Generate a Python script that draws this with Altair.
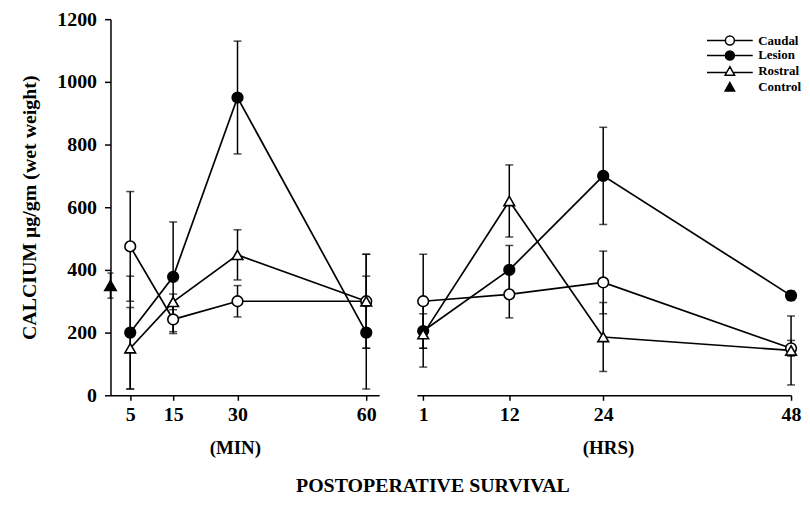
import altair as alt
import pandas as pd

# ---------------- data ----------------
series_names = ["Caudal", "Lesion", "Rostral"]
minutes = [5, 15, 30, 60]
hours = [1, 12, 24, 48]

caudal_min = [475, 242, 300, 300]
caudal_min_err = [175, 45, 50, 150]
lesion_min = [200, 378, 950, 200]
lesion_min_err = [180, 175, 180, 180]
rostral_min = [150, 298, 448, 300]
rostral_min_err = [130, 25, 80, 150]

caudal_hr = [300, 322, 360, 150]
caudal_hr_err = [150, 75, 100, 25]
lesion_hr = [205, 400, 700, 318]
lesion_hr_err = [55, 78, 155, 15]
rostral_hr = [195, 620, 186, 143]
rostral_hr_err = [105, 115, 110, 110]

control_time = [0.4]
control_value = [350]
control_err = [40]

y_ticks = [0, 200, 400, 600, 800, 1000, 1200]
legend_labels = ["Caudal", "Lesion", "Rostral", "Control"]

FONT = "Liberation Serif"


def long_df(times, vals_errs):
    rows = []
    for name, (vals, errs) in vals_errs.items():
        for t, v, e in zip(times, vals, errs):
            rows.append({"t": t, "value": v, "lo": v - e, "hi": v + e, "series": name})
    return pd.DataFrame(rows)


df_min = long_df(minutes, {
    "Caudal": (caudal_min, caudal_min_err),
    "Lesion": (lesion_min, lesion_min_err),
    "Rostral": (rostral_min, rostral_min_err),
})
df_hr = long_df(hours, {
    "Caudal": (caudal_hr, caudal_hr_err),
    "Lesion": (lesion_hr, lesion_hr_err),
    "Rostral": (rostral_hr, rostral_hr_err),
})
df_ctrl = pd.DataFrame({
    "t": control_time,
    "value": control_value,
    "lo": [v - e for v, e in zip(control_value, control_err)],
    "hi": [v + e for v, e in zip(control_value, control_err)],
})
df_leg = pd.DataFrame({"series": legend_labels})

point_style = {
    "Caudal": ("circle", "white"),
    "Lesion": ("circle", "black"),
    "Rostral": ("triangle-up", "white"),
}

legend_paths = [
    "M-4.6,0H-0.9M0.9,0H4.6M0.9,0A0.9,0.9,0,1,1,-0.9,0A0.9,0.9,0,1,1,0.9,0Z",
    "M-4.6,0H4.6M0.9,0A0.9,0.9,0,1,1,-0.9,0A0.9,0.9,0,1,1,0.9,0Z",
    "M-4.6,0.2H-0.7M0.7,0.2H4.6M0,-0.95L0.95,0.75L-0.95,0.75Z",
    "M0,-0.95L0.95,0.75L-0.95,0.75Z",
]
legend_fills = ["white", "black", "white", "black"]
legend_strokes = ["black", "black", "black", "black"]

Y_SCALE = alt.Scale(domain=[0, 1200], nice=False, zero=True)

left_y_axis = alt.Axis(
    values=y_ticks, format="d", title="CALCIUM \u03bcg/gm (wet weight)", grid=False,
    labelFontSize=20, titleFontSize=20, tickSize=6, labelPadding=8, titlePadding=17,
)


def panel(df, domain, xvals, xtitle, title_x, width, yaxis, extra=None):
    xaxis = alt.Axis(values=xvals, format="d", title=xtitle, grid=False, labelFontSize=20,
                     tickSize=5, labelPadding=4, titleX=title_x, titleY=44,
                     titleFontSize=19, labelFlush=False)
    X = alt.X("t:Q", scale=alt.Scale(domain=domain, nice=False, zero=False), axis=xaxis)

    def Y(field):
        return alt.Y(f"{field}:Q", scale=Y_SCALE, axis=yaxis)

    base = alt.Chart(df)
    layers = [
        base.mark_line(color="black", strokeWidth=1.7).encode(
            x=X, y=Y("value"), detail="series:N", order="t:Q"),
        base.mark_rule(color="black", strokeWidth=1.5).encode(x=X, y=Y("lo"), y2="hi:Q"),
        base.mark_tick(orient="horizontal", size=8, thickness=1.5, color="black").encode(x=X, y=Y("lo")),
        base.mark_tick(orient="horizontal", size=8, thickness=1.5, color="black").encode(x=X, y=Y("hi")),
    ]
    for s in series_names:
        shape, fill = point_style[s]
        layers.append(
            base.transform_filter(alt.datum.series == s).mark_point(
                shape=shape, filled=True, fill=fill, stroke="black", strokeWidth=1.6,
                size=115, opacity=1).encode(x=X, y=Y("value"))
        )
    if extra is not None:
        layers += extra(X, Y)
    return alt.layer(*layers).properties(width=width, height=378)


def control_layers(X, Y):
    b = alt.Chart(df_ctrl)
    return [
        b.mark_rule(color="black", strokeWidth=1.5).encode(x=X, y=Y("lo"), y2="hi:Q"),
        b.mark_tick(orient="horizontal", size=6, thickness=1.5, color="black").encode(x=X, y=Y("lo")),
        b.mark_tick(orient="horizontal", size=6, thickness=1.5, color="black").encode(x=X, y=Y("hi")),
        b.mark_point(shape="triangle-up", filled=True, fill="black", stroke="black",
                     size=115, opacity=1).encode(x=X, y=Y("value")),
    ]


leg = alt.Legend(
    title=None, orient="none", legendX=616, legendY=15,
    labelFont=FONT, labelFontWeight="bold", labelFontSize=13, labelColor="black",
    symbolSize=100, labelOffset=22, rowPadding=0, symbolStrokeColor="black",
    symbolStrokeWidth=1.5, symbolOpacity=1, padding=0,
)


def legend_layers(X, Y):
    return [
        alt.Chart(df_leg).transform_filter("false").mark_point(
            filled=True, size=100, strokeWidth=1.5, opacity=1).encode(
            x=X, y=Y("value"),
            shape=alt.Shape("series:N", scale=alt.Scale(domain=legend_labels, range=legend_paths), legend=leg),
            fill=alt.Fill("series:N", scale=alt.Scale(domain=legend_labels, range=legend_fills), legend=leg),
            stroke=alt.Stroke("series:N", scale=alt.Scale(domain=legend_labels, range=legend_strokes), legend=leg),
        )
    ]


left = panel(df_min, [0.4, 63], minutes, "(MIN)", 125, 270, left_y_axis, control_layers)
right = panel(df_hr, [0.2, 48], hours, "(HRS)", 192, 376, None, legend_layers)

chart = alt.hconcat(left, right, spacing=35).properties(
    title=alt.TitleParams("POSTOPERATIVE SURVIVAL", orient="bottom", anchor="middle",
                          fontSize=20, font=FONT, fontWeight="bold", color="black",
                          offset=18, dx=22),
    padding={"left": 12, "top": 0, "right": 0, "bottom": 0},
    background="white",
).configure_view(stroke=None).configure_axis(
    labelFont=FONT, titleFont=FONT, labelFontWeight="bold", titleFontWeight="bold",
    labelColor="black", titleColor="black", domainColor="black", tickColor="black",
    domainWidth=1.5, tickWidth=1.5,
)

chart.save("out.html", embed_options={"renderer": "svg", "actions": False})
